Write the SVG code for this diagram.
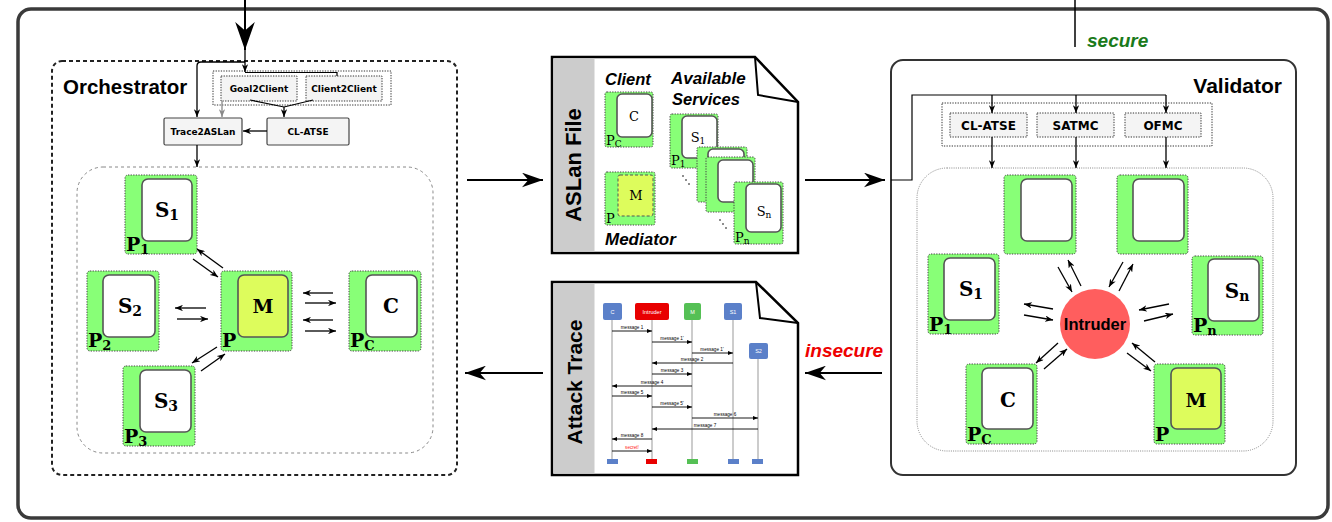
<svg xmlns="http://www.w3.org/2000/svg" width="1332" height="522" viewBox="0 0 1332 522">
<style>
.g{fill:#88ff77;stroke:#444;stroke-width:1;stroke-dasharray:1.3 1.3}
.w{fill:#fff;stroke:#555;stroke-width:1.6}
.y{fill:#ddfc5c;stroke:#555;stroke-width:1.6}
.ser{font-family:"DejaVu Serif","Liberation Serif",serif;font-weight:bold;fill:#000}
.sers{font-family:"DejaVu Serif","Liberation Serif",serif;fill:#000}
.sans{font-family:"Liberation Sans",Arial,sans-serif;font-weight:bold;fill:#000}
.dv{font-family:"DejaVu Sans","Liberation Sans",sans-serif;font-weight:bold;fill:#000}
.it{font-family:"Liberation Sans",Arial,sans-serif;font-weight:bold;font-style:italic}
.tool{fill:#f4f4f4;stroke:#333;stroke-width:1;stroke-dasharray:1.3 1.3}
.box{fill:#f4f4f4;stroke:#444;stroke-width:1.2}
.a{stroke:#000;stroke-width:1.3;fill:none;marker-end:url(#ah)}
.big{stroke:#000;stroke-width:2;fill:none;marker-end:url(#bh)}
.ll{stroke:#999;stroke-width:1}
.m{stroke:#000;stroke-width:0.9;marker-end:url(#th)}
.ml{font-family:"Liberation Sans",Arial,sans-serif;font-size:4.6px;fill:#000;text-anchor:middle}
.hd{font-family:"Liberation Sans",Arial,sans-serif;font-size:5.5px;fill:#fff;text-anchor:middle}
</style>
<defs>
<marker id="ah" viewBox="0 0 10 8" refX="10" refY="4" markerWidth="8" markerHeight="6.4" orient="auto" markerUnits="userSpaceOnUse"><path d="M0,0 L10,4 L0,8 L3,4 Z" fill="#000"/></marker>
<marker id="ahg" viewBox="0 0 10 8" refX="10" refY="4" markerWidth="8" markerHeight="6.4" orient="auto" markerUnits="userSpaceOnUse"><path d="M0,0 L10,4 L0,8 L3,4 Z" fill="#888"/></marker>
<marker id="bh" viewBox="0 0 20 14" refX="20" refY="7" markerWidth="21" markerHeight="15" orient="auto" markerUnits="userSpaceOnUse"><path d="M0,0 L20,7 L0,14 L6,7 Z" fill="#000"/></marker>
<marker id="bh2" viewBox="0 0 20 14" refX="20" refY="7" markerWidth="28" markerHeight="20" orient="auto" markerUnits="userSpaceOnUse"><path d="M0,0 L20,7 L0,14 L6,7 Z" fill="#000"/></marker>
<marker id="th" viewBox="0 0 10 8" refX="10" refY="4" markerWidth="5" markerHeight="4" orient="auto" markerUnits="userSpaceOnUse"><path d="M0,0 L10,4 L0,8 Z" fill="#000"/></marker>
</defs>

<rect x="0" y="0" width="1332" height="522" fill="#fff"/>

<!-- outer frame -->
<rect id="frame" x="18" y="9" width="1310" height="509" rx="13" fill="none" stroke="#3a3a3a" stroke-width="3.5"/>

<!-- Orchestrator -->
<g id="orchestrator">
<rect x="52" y="61" width="405" height="414" rx="10" fill="none" stroke="#222" stroke-width="2" stroke-dasharray="4 3"/>
<text class="sans" x="63" y="94" font-size="20.5">Orchestrator</text>
<rect x="77" y="167" width="356" height="286" rx="26" fill="none" stroke="#888" stroke-width="1" stroke-dasharray="3 3"/>
</g>
<g id="clientgen">
<rect x="213" y="71" width="178" height="34" fill="none" stroke="#333" stroke-width="1" stroke-dasharray="1.3 1.3"/>
</g>
<g id="goal2client">
<rect class="tool" x="221" y="76" width="76" height="25"/>
<text class="dv" x="259" y="92" font-size="9" text-anchor="middle">Goal2Client</text>
</g>
<g id="client2client">
<rect class="tool" x="306" y="76" width="76" height="25"/>
<text class="dv" x="344" y="92" font-size="9" text-anchor="middle">Client2Client</text>
</g>
<g id="trace2aslan">
<rect class="box" x="164" y="118" width="78" height="27" rx="1.5"/>
<text class="dv" x="203" y="135" font-size="9" text-anchor="middle">Trace2ASLan</text>
</g>
<g id="clatse-o">
<rect class="box" x="267" y="118" width="82" height="27" rx="1.5"/>
<text class="dv" x="308" y="135" font-size="9" text-anchor="middle">CL-ATSE</text>
</g>

<g id="o-p1">
<rect class="g" x="125" y="175" width="72" height="79" rx="3"/>
<rect class="w" x="142" y="179" width="50" height="62" rx="6"/>
<text class="ser" x="167" y="217" font-size="20" text-anchor="middle">S<tspan font-size="14" dy="3">1</tspan></text>
<text class="ser" x="126" y="251" font-size="19">P<tspan font-size="13" dy="3">1</tspan></text>
</g>
<g id="o-p2">
<rect class="g" x="87" y="271" width="72" height="80" rx="3"/>
<rect class="w" x="103" y="275" width="52" height="62" rx="6"/>
<text class="ser" x="130" y="313" font-size="20" text-anchor="middle">S<tspan font-size="14" dy="3">2</tspan></text>
<text class="ser" x="88" y="347" font-size="19">P<tspan font-size="13" dy="3">2</tspan></text>
</g>
<g id="o-m">
<rect class="g" x="221" y="271" width="71" height="80" rx="3"/>
<rect class="y" x="238" y="275" width="50" height="62" rx="6"/>
<text class="ser" x="263" y="313" font-size="19" text-anchor="middle">M</text>
<text class="ser" x="222" y="347" font-size="19">P</text>
</g>
<g id="o-pc">
<rect class="g" x="349" y="271" width="72" height="80" rx="3"/>
<rect class="w" x="366" y="275" width="51" height="62" rx="6"/>
<text class="ser" x="391" y="313" font-size="20" text-anchor="middle">C</text>
<text class="ser" x="350" y="347" font-size="19">P<tspan font-size="13" dy="3">C</tspan></text>
</g>
<g id="o-p3">
<rect class="g" x="123" y="366" width="72" height="80" rx="3"/>
<rect class="w" x="140" y="370" width="51" height="62" rx="6"/>
<text class="ser" x="166" y="408" font-size="20" text-anchor="middle">S<tspan font-size="14" dy="3">3</tspan></text>
<text class="ser" x="124" y="443" font-size="19">P<tspan font-size="13" dy="3">3</tspan></text>
</g>

<!-- ASLan File -->
<g id="aslan-file">
<path d="M552,57 H755 L798,102 V253 H552 Z" fill="#fff" stroke="#000" stroke-width="2.5"/>
<rect x="553.5" y="58.5" width="41" height="193" fill="#cccccc"/>
<path d="M755,57 L758,95 L798,102" fill="none" stroke="#000" stroke-width="2"/>
<text class="sans" font-size="22" transform="translate(581,165) rotate(-90)" text-anchor="middle">ASLan File</text>
<text class="it" x="605" y="85" font-size="16.5">Client</text>
<text class="it" x="671" y="84" font-size="17">Available</text>
<text class="it" x="672" y="105" font-size="16.5">Services</text>
<text class="it" x="605" y="245" font-size="17">Mediator</text>
<rect class="g" x="605" y="92" width="48" height="55" rx="2"/>
<rect class="w" x="617" y="94" width="35" height="43" rx="5" stroke-width="1.3"/>
<text class="sers" x="634" y="121" font-size="13" text-anchor="middle">C</text>
<text class="sers" x="606" y="145" font-size="13">P<tspan font-size="9" dy="2">C</tspan></text>
<rect class="g" x="605" y="172" width="50" height="53" rx="2"/>
<rect x="618" y="175" width="35" height="41" rx="2" fill="#ddfc5c" stroke="#555" stroke-width="1" stroke-dasharray="3 2"/>
<text class="sers" x="636" y="200" font-size="13" text-anchor="middle">M</text>
<text class="sers" x="606" y="223" font-size="13">P</text>
<rect class="g" x="670" y="114" width="48" height="54" rx="2"/>
<rect class="w" x="682" y="116" width="35" height="42" rx="5" stroke-width="1.3"/>
<text class="sers" x="698" y="142" font-size="13" text-anchor="middle">S<tspan font-size="9" dy="2">1</tspan></text>
<text class="sers" x="671" y="165" font-size="13">P<tspan font-size="9" dy="2">1</tspan></text>
<rect class="g" x="697" y="147" width="50" height="55" rx="2"/>
<rect class="w" x="708" y="149" width="36" height="42" rx="5" stroke-width="1.3"/>
<rect class="g" x="706" y="157" width="49" height="55" rx="2"/>
<rect class="w" x="718" y="160" width="35" height="42" rx="5" stroke-width="1.3"/>
<rect class="g" x="734" y="182" width="49" height="62" rx="2"/>
<rect class="w" x="746" y="184" width="35" height="48" rx="5" stroke-width="1.3"/>
<text class="sers" x="764" y="216" font-size="13" text-anchor="middle">S<tspan font-size="9" dy="2">n</tspan></text>
<text class="sers" x="735" y="242" font-size="13">P<tspan font-size="9" dy="2">n</tspan></text>
<g fill="#000"><circle cx="683" cy="176" r="0.8"/><circle cx="686" cy="180" r="0.8"/><circle cx="689" cy="184" r="0.8"/><circle cx="720" cy="220" r="0.8"/><circle cx="723" cy="224" r="0.8"/><circle cx="726" cy="228" r="0.8"/></g>
</g>

<!-- Attack Trace -->
<g id="attack-trace">
<path d="M552,282 H756 L798,323 V475 H552 Z" fill="#fff" stroke="#000" stroke-width="2.5"/>
<rect x="553.5" y="283.5" width="41" height="190" fill="#cccccc"/>
<path d="M756,282 L760,318 L798,323" fill="none" stroke="#000" stroke-width="2"/>
<text class="sans" font-size="21" transform="translate(582,382) rotate(-90)" text-anchor="middle">Attack Trace</text>
<line class="ll" x1="612" y1="320" x2="612" y2="460"/>
<line class="ll" x1="652" y1="320" x2="652" y2="460"/>
<line class="ll" x1="692" y1="320" x2="692" y2="460"/>
<line class="ll" x1="733" y1="320" x2="733" y2="460"/>
<line class="ll" x1="758" y1="359" x2="758" y2="460"/>
<rect x="603" y="303" width="19" height="17" rx="2" fill="#5b80c9"/><text class="hd" x="612.5" y="313.5">C</text>
<rect x="635" y="303" width="34" height="17" rx="2" fill="#e80000"/><text class="hd" x="652" y="313.5">Intruder</text>
<rect x="684" y="303" width="17" height="17" rx="2" fill="#55c055"/><text class="hd" x="692.5" y="313.5">M</text>
<rect x="724" y="303" width="18" height="17" rx="2" fill="#5b80c9"/><text class="hd" x="733" y="313.5">S1</text>
<rect x="749" y="343" width="19" height="16" rx="2" fill="#5b80c9"/><text class="hd" x="758.5" y="353">S2</text>
<rect x="607" y="459" width="11" height="5" fill="#5b80c9"/>
<rect x="646" y="459" width="11" height="5" fill="#e80000"/>
<rect x="687" y="459" width="11" height="5" fill="#55c055"/>
<rect x="728" y="459" width="11" height="5" fill="#5b80c9"/>
<rect x="752" y="459" width="11" height="5" fill="#5b80c9"/>
<line class="m" x1="612" y1="331" x2="652" y2="331"/><text class="ml" x="632" y="329">message 1</text>
<line class="m" x1="652" y1="342" x2="692" y2="342"/><text class="ml" x="672" y="340">message 1'</text>
<line class="m" x1="692" y1="353" x2="733" y2="353"/><text class="ml" x="712" y="351">message 1'</text>
<line class="m" x1="733" y1="363" x2="652" y2="363"/><text class="ml" x="692" y="361">message 2</text>
<line class="m" x1="652" y1="374" x2="692" y2="374"/><text class="ml" x="672" y="372">message 3</text>
<line class="m" x1="692" y1="386" x2="612" y2="386"/><text class="ml" x="652" y="384">message 4</text>
<line class="m" x1="612" y1="396" x2="652" y2="396"/><text class="ml" x="632" y="394">message 5</text>
<line class="m" x1="652" y1="407" x2="692" y2="407"/><text class="ml" x="672" y="405">message 5'</text>
<line class="m" x1="692" y1="418" x2="758" y2="418"/><text class="ml" x="725" y="416">message 6</text>
<line class="m" x1="758" y1="429" x2="652" y2="429"/><text class="ml" x="705" y="427">message 7</text>
<line class="m" x1="652" y1="439" x2="612" y2="439"/><text class="ml" x="632" y="437">message 8</text>
<line class="m" x1="612" y1="451" x2="652" y2="451"/><text class="ml" x="632" y="449" fill="#ff2020" style="fill:#ff2020">secret!</text>
</g>

<!-- Validator -->
<g id="validator">
<rect x="891" y="60" width="405" height="415" rx="12" fill="none" stroke="#333" stroke-width="2"/>
<text class="sans" x="1282" y="93" font-size="21" text-anchor="end">Validator</text>
<rect x="917" y="168" width="356" height="283" rx="30" fill="none" stroke="#888" stroke-width="1" stroke-dasharray="1 1.2"/>
<rect x="942" y="103" width="270" height="43" fill="none" stroke="#333" stroke-width="1" stroke-dasharray="1.3 1.3"/>
</g>
<g id="v-clatse"><rect class="tool" x="950" y="113" width="77" height="24"/><text class="dv" x="988.5" y="130" font-size="12" text-anchor="middle">CL-ATSE</text></g>
<g id="v-satmc"><rect class="tool" x="1037" y="113" width="77" height="24"/><text class="dv" x="1075.5" y="130" font-size="12" text-anchor="middle">SATMC</text></g>
<g id="v-ofmc"><rect class="tool" x="1125" y="113" width="76" height="24"/><text class="dv" x="1163" y="130" font-size="12" text-anchor="middle">OFMC</text></g>

<g id="v-top1">
<rect class="g" x="1004" y="175" width="72" height="79" rx="3"/>
<rect class="w" x="1021" y="179" width="51" height="62" rx="6"/>
</g>
<g id="v-top2">
<rect class="g" x="1117" y="175" width="71" height="79" rx="3"/>
<rect class="w" x="1133" y="179" width="51" height="62" rx="6"/>
</g>
<g id="v-p1">
<rect class="g" x="928" y="254" width="71" height="80" rx="3"/>
<rect class="w" x="944" y="258" width="51" height="62" rx="6"/>
<text class="ser" x="971" y="296" font-size="20" text-anchor="middle">S<tspan font-size="14" dy="3">1</tspan></text>
<text class="ser" x="929" y="331" font-size="19">P<tspan font-size="13" dy="3">1</tspan></text>
</g>
<g id="v-pn">
<rect class="g" x="1192" y="256" width="71" height="79" rx="3"/>
<rect class="w" x="1208" y="259" width="51" height="62" rx="6"/>
<text class="ser" x="1237" y="298" font-size="20" text-anchor="middle">S<tspan font-size="14" dy="3">n</tspan></text>
<text class="ser" x="1193" y="332" font-size="19">P<tspan font-size="13" dy="3">n</tspan></text>
</g>
<g id="v-pc">
<rect class="g" x="966" y="364" width="71" height="80" rx="3"/>
<rect class="w" x="982" y="368" width="51" height="61" rx="6"/>
<text class="ser" x="1008" y="407" font-size="20" text-anchor="middle">C</text>
<text class="ser" x="967" y="441" font-size="19">P<tspan font-size="13" dy="3">C</tspan></text>
</g>
<g id="v-m">
<rect class="g" x="1154" y="364" width="71" height="80" rx="3"/>
<rect class="y" x="1171" y="368" width="50" height="61" rx="6"/>
<text class="ser" x="1196" y="407" font-size="19" text-anchor="middle">M</text>
<text class="ser" x="1155" y="441" font-size="19">P</text>
</g>
<g id="intruder">
<circle cx="1095" cy="324" r="35" fill="#ff5e5e"/>
<text class="sans" x="1095" y="330" font-size="16.5" text-anchor="middle">Intruder</text>
</g>

<!-- labels -->
<text class="it" x="1087" y="47" font-size="19" fill="#1a7a1a">secure</text>
<text class="it" x="805" y="357" font-size="19" fill="#ee0000">insecure</text>

<!-- connectors -->
<g id="connectors">
<line x1="245" y1="0" x2="245" y2="50" stroke="#000" stroke-width="2" marker-end="url(#bh2)"/>
<line x1="1075" y1="0" x2="1075" y2="47" stroke="#000" stroke-width="1.5"/>
<line class="big" x1="467" y1="180" x2="543" y2="180"/>
<line class="big" x1="805" y1="180" x2="885" y2="180"/>
<line class="big" x1="882" y1="373" x2="805" y2="373"/>
<line class="big" x1="543" y1="373" x2="465" y2="373"/>

<line class="a" x1="245" y1="50" x2="245" y2="72"/>
<path class="a" d="M245,62 H201 Q197,62 197,66 V117"/>
<path d="M245,72.5 H337 V76" fill="none" stroke="#000" stroke-width="1.2"/>
<line x1="222" y1="101" x2="222" y2="117" stroke="#888" stroke-width="1.3" marker-end="url(#ahg)"/>
<path d="M250,100 L284,107 L313,100" fill="none" stroke="#000" stroke-width="1.2"/>
<line class="a" x1="284" y1="107" x2="284" y2="117"/>
<line class="a" x1="267" y1="131" x2="243" y2="131"/>
<line class="a" x1="197" y1="145" x2="197" y2="167"/>

<line class="a" x1="223" y1="268" x2="197" y2="249"/>
<line class="a" x1="193" y1="259" x2="218" y2="277"/>
<line class="a" x1="206" y1="308" x2="175" y2="308"/>
<line class="a" x1="177" y1="319" x2="208" y2="319"/>
<line class="a" x1="333" y1="293" x2="303" y2="293"/>
<line class="a" x1="305" y1="303" x2="336" y2="303"/>
<line class="a" x1="333" y1="320" x2="303" y2="320"/>
<line class="a" x1="305" y1="331" x2="336" y2="331"/>
<line class="a" x1="217" y1="347" x2="192" y2="363"/>
<line class="a" x1="201" y1="371" x2="225" y2="354"/>

<path d="M891,180 H912 V95 H1166" fill="none" stroke="#000" stroke-width="1.2"/>
<line class="a" x1="992" y1="95" x2="992" y2="113"/>
<line class="a" x1="1076" y1="95" x2="1076" y2="113"/>
<line class="a" x1="1166" y1="95" x2="1166" y2="113"/>
<line class="a" x1="992" y1="137" x2="992" y2="168"/>
<line class="a" x1="1076" y1="137" x2="1076" y2="168"/>
<line class="a" x1="1166" y1="137" x2="1166" y2="168"/>

<line class="a" x1="1058" y1="267" x2="1072" y2="292"/>
<line class="a" x1="1081" y1="286" x2="1068" y2="260"/>
<line class="a" x1="1123" y1="262" x2="1109" y2="287"/>
<line class="a" x1="1119" y1="291" x2="1133" y2="264"/>
<line class="a" x1="1053" y1="309" x2="1024" y2="304"/>
<line class="a" x1="1024" y1="315" x2="1053" y2="320"/>
<line class="a" x1="1169" y1="304" x2="1139" y2="310"/>
<line class="a" x1="1144" y1="321" x2="1173" y2="314"/>
<line class="a" x1="1058" y1="343" x2="1036" y2="363"/>
<line class="a" x1="1044" y1="369" x2="1067" y2="349"/>
<line class="a" x1="1155" y1="362" x2="1132" y2="343"/>
<line class="a" x1="1127" y1="353" x2="1151" y2="371"/>
</g>
</svg>
